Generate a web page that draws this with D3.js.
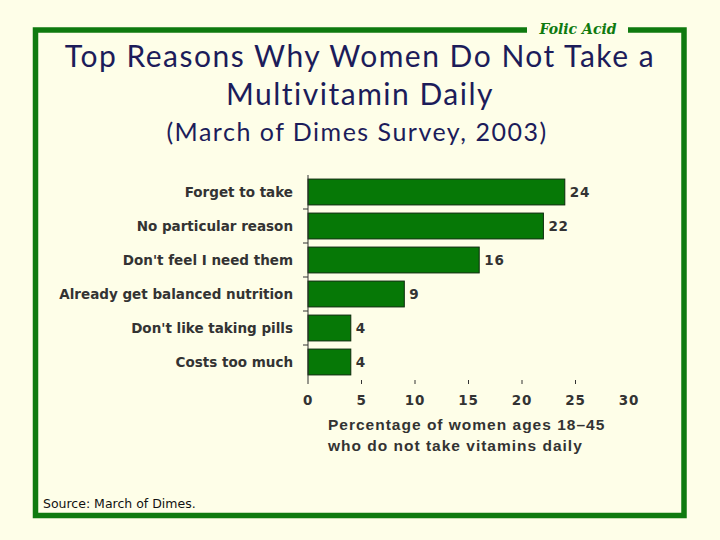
<!DOCTYPE html>
<html>
<head>
<meta charset="utf-8">
<title>Top Reasons Why Women Do Not Take a Multivitamin Daily</title>
<style>
body {
  margin: 0;
  background: #fefee8;
}
svg {
  display: block;
}
.cat text, .xaxis text, .val {
  font-family: "DejaVu Sans", Verdana, sans-serif;
  font-weight: bold;
  font-size: 13.5px;
  fill: #333333;
}
.xaxis text {
  letter-spacing: 0.8px;
}
.title {
  font-family: "Lato", "Open Sans", sans-serif;
  fill: #1c1c5a;
  text-anchor: middle;
  letter-spacing: 1.5px;
}
</style>
</head>
<body>
<div id="vis"></div>

<script src="https://d3js.org/d3.v7.min.js"></script>
<script>

var reasons = ["Forget to take", "No particular reason", "Don't feel I need them",
               "Already get balanced nutrition", "Don't like taking pills", "Costs too much"];
var percents = [24, 22, 16, 9, 4, 4];
var xTicks = [0, 5, 10, 15, 20, 25, 30];

var data = reasons.map(function(r, i) { return {reason: r, value: percents[i]}; });

var svg = d3.select("#vis").append("svg")
    .attr("width", 720)
    .attr("height", 540);

svg.append("rect")
    .attr("width", 720).attr("height", 540)
    .attr("fill", "#fefee8");

// green frame
svg.append("rect")
    .attr("x", 35.5).attr("y", 30)
    .attr("width", 648.5).attr("height", 485.5)
    .attr("fill", "none")
    .attr("stroke", "#0f7a0f")
    .attr("stroke-width", 5.5);

// gap in frame for the tag
svg.append("rect")
    .attr("x", 527).attr("y", 25)
    .attr("width", 101).attr("height", 10)
    .attr("fill", "#fefee8");

svg.append("text")
    .attr("x", 578).attr("y", 33.5)
    .attr("text-anchor", "middle")
    .style("font-family", "'DejaVu Serif', serif")
    .style("font-style", "italic")
    .style("font-weight", "bold")
    .style("font-size", "14px")
    .attr("fill", "#0f7a0f")
    .text("Folic Acid");

svg.append("text").attr("class", "title")
    .attr("x", 360).attr("y", 67)
    .style("font-size", "30px")
    .text("Top Reasons Why Women Do Not Take a");
svg.append("text").attr("class", "title")
    .attr("x", 360).attr("y", 105)
    .style("font-size", "30px")
    .text("Multivitamin Daily");
svg.append("text").attr("class", "title")
    .attr("x", 357).attr("y", 141)
    .style("font-size", "25px")
    .text("(March of Dimes Survey, 2003)");

var x = d3.scaleLinear().domain([0, 30]).range([308, 629]);
var y = d3.scaleBand().domain(reasons).range([175, 379]).paddingInner(0.24).paddingOuter(0.12);

// bars
svg.selectAll(".bar")
    .data(data)
  .enter().append("rect")
    .attr("class", "bar")
    .attr("x", x(0))
    .attr("y", function(d) { return y(d.reason); })
    .attr("width", function(d) { return x(d.value) - x(0); })
    .attr("height", y.bandwidth())
    .attr("fill", "#067806")
    .attr("stroke", "#0a2a0a")
    .attr("stroke-width", 1);

svg.selectAll(".val")
    .data(data)
  .enter().append("text")
    .attr("class", "val")
    .attr("x", function(d) { return x(d.value) + 5; })
    .attr("y", function(d) { return y(d.reason) + y.bandwidth() / 2; })
    .attr("dy", "0.35em")
    .style("letter-spacing", "0.8px")
    .text(function(d) { return d.value; });

// category axis
var catAxis = svg.append("g").attr("class", "cat");
catAxis.append("line")
    .attr("x1", x(0)).attr("x2", x(0))
    .attr("y1", 175).attr("y2", 384)
    .attr("stroke", "#333");
var step = y.step();
catAxis.selectAll(".tk")
    .data(reasons.slice(1))
  .enter().append("line")
    .attr("class", "tk")
    .attr("x1", x(0) - 5).attr("x2", x(0))
    .attr("y1", function(d) { return y(d) - (step - y.bandwidth()) / 2; })
    .attr("y2", function(d) { return y(d) - (step - y.bandwidth()) / 2; })
    .attr("stroke", "#333");
catAxis.selectAll("text")
    .data(reasons)
  .enter().append("text")
    .attr("x", 293)
    .attr("y", function(d) { return y(d) + y.bandwidth() / 2; })
    .attr("dy", "0.35em")
    .attr("text-anchor", "end")
    .text(function(d) { return d; });

// value axis
var xAxis = svg.append("g").attr("class", "xaxis");
xAxis.selectAll(".tk")
    .data(xTicks.filter(function(t) { return t > 0 && t < 30; }))
  .enter().append("line")
    .attr("class", "tk")
    .attr("x1", function(d) { return x(d); })
    .attr("x2", function(d) { return x(d); })
    .attr("y1", 380).attr("y2", 384)
    .attr("stroke", "#333");
xAxis.selectAll("text")
    .data(xTicks)
  .enter().append("text")
    .attr("x", function(d) { return x(d); })
    .attr("y", 405)
    .attr("text-anchor", "middle")
    .text(function(d) { return d; });

var xTitle = svg.append("text")
    .style("font-family", "'Liberation Sans', Arial, sans-serif")
    .style("font-weight", "bold")
    .style("font-size", "15.5px")
    .style("letter-spacing", "1px")
    .attr("fill", "#333333");
xTitle.append("tspan").attr("x", 328).attr("y", 430).text("Percentage of women ages 18\u201345");
xTitle.append("tspan").attr("x", 328).attr("y", 451).text("who do not take vitamins daily");

svg.append("text")
    .attr("x", 43).attr("y", 508)
    .style("font-family", "'DejaVu Sans', Tahoma, sans-serif")
    .style("font-size", "12.5px")
    .attr("fill", "#111")
    .text("Source: March of Dimes.");

</script>
</body>
</html>
